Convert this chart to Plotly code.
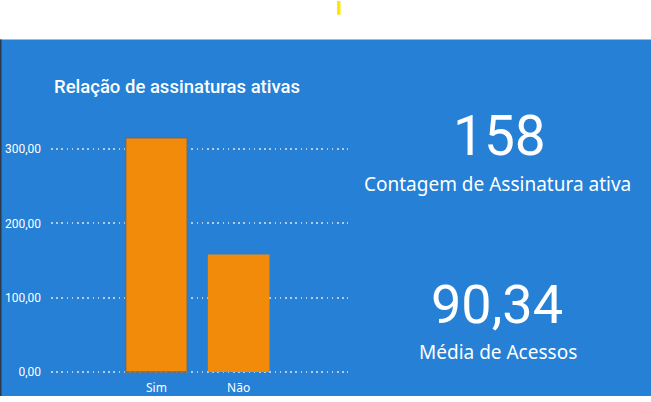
import plotly.graph_objects as go

categories = ["Sim", "Não"]
values = [315, 158]
tick_vals = [0, 100, 200, 300]
kpi_count = "158"
kpi_count_label = "Contagem de Assinatura ativa"
kpi_mean = "90,34"
kpi_mean_label = "Média de Acessos"
title_text = "Relação de assinaturas ativas"

W, H = 651, 402
BLUE = "#2580d6"
ORANGE = "#f38b0a"


def px(x):
    return x / W


def py(y):
    return (H - y) / H


fig = go.Figure()
fig.add_trace(go.Bar(
    x=categories, y=values, width=0.75,
    marker=dict(color=ORANGE,
                line=dict(color=["#77695a", ORANGE], width=[1.5, 0])),
    hoverinfo="skip",
))

y0_px = 377.7
k = 0.755
y_lo, y_hi = -2, 340
fig.update_layout(
    width=W, height=H,
    autosize=False,
    margin=dict(l=0, r=0, t=0, b=0, pad=0),
    paper_bgcolor="white",
    plot_bgcolor="rgba(0,0,0,0)",
    separators=",.",
    showlegend=False,
    xaxis=dict(domain=[px(51), px(348)], range=[-1.283, 2.33],
               showgrid=False, zeroline=False, showline=False,
               tickfont=dict(family="Noto Sans", size=12, color="white"),
               ticks="outside", ticklen=3, tickcolor="rgba(0,0,0,0)"),
    yaxis=dict(domain=[py(y0_px - y_lo * k), py(y0_px - y_hi * k)], range=[y_lo, y_hi],
               tickvals=tick_vals, tickformat=",.2f",
               showgrid=True, gridcolor="#b4cde6",
               griddash="1.5px,3.7px", gridwidth=1.5,
               zeroline=False, showline=False,
               ticklabelstandoff=9,
               tickfont=dict(family="Roboto", size=12, color="white")),
    shapes=[
        dict(type="rect", xref="paper", yref="paper", x0=0, x1=1,
             y0=0, y1=py(40), fillcolor=BLUE, line=dict(width=0), layer="below"),
        dict(type="rect", xref="paper", yref="paper", x0=0, x1=px(1.5),
             y0=0, y1=py(40), fillcolor="#2b3a4a", line=dict(width=0), layer="below"),
        dict(type="rect", xref="paper", yref="paper", x0=px(337), x1=px(340.5),
             y0=py(15), y1=py(1), fillcolor="#ffe600", line=dict(width=0), layer="below"),
    ],
    annotations=[
        dict(text=title_text, xref="paper", yref="paper", x=px(52), y=py(88),
             xanchor="left", yanchor="middle", showarrow=False,
             font=dict(family="Roboto", size=18.5, color="white", weight=500)),
        dict(text=kpi_count, xref="paper", yref="paper", x=px(499), y=py(138),
             xanchor="center", yanchor="middle", showarrow=False,
             font=dict(family="Roboto", size=55, color="white")),
        dict(text=kpi_count_label, xref="paper", yref="paper", x=px(497), y=py(187),
             xanchor="center", yanchor="middle", showarrow=False,
             font=dict(family="Noto Sans", size=19, color="white")),
        dict(text=kpi_mean, xref="paper", yref="paper", x=px(497), y=py(309),
             xanchor="center", yanchor="middle", showarrow=False,
             font=dict(family="Roboto", size=54, color="white")),
        dict(text=kpi_mean_label, xref="paper", yref="paper", x=px(498), y=py(357),
             xanchor="center", yanchor="middle", showarrow=False,
             font=dict(family="Noto Sans", size=19, color="white")),
    ],
)

fig.write_html("out.html", config={"displayModeBar": False})
